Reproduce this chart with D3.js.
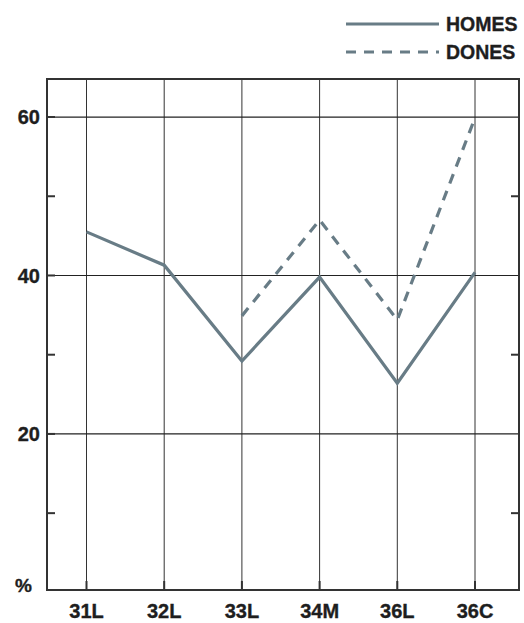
<!DOCTYPE html>
<html>
<head>
<meta charset="utf-8">
<script src="https://cdn.jsdelivr.net/npm/d3@7/dist/d3.min.js"></script>
<style>
  html, body { margin: 0; padding: 0; background: #fff; }
  svg { display: block; }
  text { font-family: "Liberation Sans", Arial, Helvetica, sans-serif; font-weight: bold; fill: #1e1e1e; stroke: #1e1e1e; stroke-width: 0.35px; }
</style>
</head>
<body>
<svg id="chart" width="524" height="623"></svg>
<script>
const categories = ["31L", "32L", "33L", "34M", "36L", "36C"];
const homes = [45.5, 41.3, 29.2, 39.8, 26.4, 40.4];
const dones = [null, null, 34.9, 47.0, 34.4, 59.9];
const majorTicks = [20, 40, 60];
const minorTicks = [10, 30, 50];
const seriesNames = ["HOMES", "DONES"];

const svg = d3.select("#chart");
const plotLeft = 47, plotRight = 519, plotTop = 79, plotBottom = 590;
const lineColor = "#687c86";

const x = d3.scalePoint().domain(categories).range([86.5, 475]);
const y = d3.scaleLinear().domain([0.3, 64.8]).range([plotBottom, plotTop]);

// vertical gridlines
svg.append("g").selectAll("line").data(categories).join("line")
  .attr("x1", d => x(d)).attr("x2", d => x(d))
  .attr("y1", plotTop).attr("y2", plotBottom)
  .attr("stroke", "#333").attr("stroke-width", 1);

// x ticks (short heavier marks at bottom)
svg.append("g").selectAll("line").data(categories).join("line")
  .attr("x1", d => x(d)).attr("x2", d => x(d))
  .attr("y1", plotBottom - 9).attr("y2", plotBottom)
  .attr("stroke", "#333").attr("stroke-width", 2);

// horizontal gridlines
svg.append("g").selectAll("line").data(majorTicks).join("line")
  .attr("x1", plotLeft).attr("x2", plotRight)
  .attr("y1", d => y(d)).attr("y2", d => y(d))
  .attr("stroke", "#222").attr("stroke-width", 1.2);

// major ticks inner marks on left
svg.append("g").selectAll("line").data(majorTicks).join("line")
  .attr("x1", plotLeft).attr("x2", plotLeft + 8)
  .attr("y1", d => y(d)).attr("y2", d => y(d))
  .attr("stroke", "#333").attr("stroke-width", 2);

// minor ticks left and right
const mt = svg.append("g");
mt.selectAll("line.l").data(minorTicks).join("line").attr("class", "l")
  .attr("x1", plotLeft).attr("x2", plotLeft + 8)
  .attr("y1", d => y(d)).attr("y2", d => y(d))
  .attr("stroke", "#333").attr("stroke-width", 2);
mt.selectAll("line.r").data(minorTicks).join("line").attr("class", "r")
  .attr("x1", plotRight - 8).attr("x2", plotRight)
  .attr("y1", d => y(d)).attr("y2", d => y(d))
  .attr("stroke", "#333").attr("stroke-width", 2);

// frame
svg.append("rect")
  .attr("x", plotLeft).attr("y", plotTop)
  .attr("width", plotRight - plotLeft).attr("height", plotBottom - plotTop)
  .attr("fill", "none").attr("stroke", "#333").attr("stroke-width", 2);

// y labels
svg.append("g").selectAll("text").data(majorTicks).join("text")
  .attr("x", 40).attr("y", d => y(d))
  .attr("dy", "0.36em")
  .attr("text-anchor", "end")
  .attr("font-size", 20)
  .text(d => d);
svg.append("text").attr("x", 15).attr("y", 592)
  .attr("font-size", 19).text("%");

// x labels
svg.append("g").selectAll("text").data(categories).join("text")
  .attr("x", d => x(d)).attr("y", 618)
  .attr("text-anchor", "middle")
  .attr("font-size", 20)
  .text(d => d);

// lines
const line = d3.line()
  .defined(d => d.v != null)
  .x(d => x(d.c)).y(d => y(d.v));

const homesData = categories.map((c, i) => ({ c, v: homes[i] }));
const donesData = categories.map((c, i) => ({ c, v: dones[i] }));

svg.append("path").datum(homesData)
  .attr("d", line).attr("fill", "none")
  .attr("stroke", lineColor).attr("stroke-width", 3.2)
  .attr("stroke-linejoin", "miter");

svg.append("path").datum(donesData)
  .attr("d", line).attr("fill", "none")
  .attr("stroke", lineColor).attr("stroke-width", 3.2)
  .attr("stroke-dasharray", "10,8");

// legend
const legend = svg.append("g");
const legY = [24, 52];
legend.selectAll("line").data(seriesNames).join("line")
  .attr("x1", 346).attr("x2", 439)
  .attr("y1", (d, i) => legY[i]).attr("y2", (d, i) => legY[i])
  .attr("stroke", lineColor).attr("stroke-width", 3.2)
  .attr("stroke-dasharray", (d, i) => i === 0 ? null : "10,8");
legend.selectAll("text").data(seriesNames).join("text")
  .attr("x", 446).attr("y", (d, i) => legY[i])
  .attr("dy", "0.36em")
  .attr("font-size", 19.5)
  .text(d => d);
</script>
</body>
</html>
